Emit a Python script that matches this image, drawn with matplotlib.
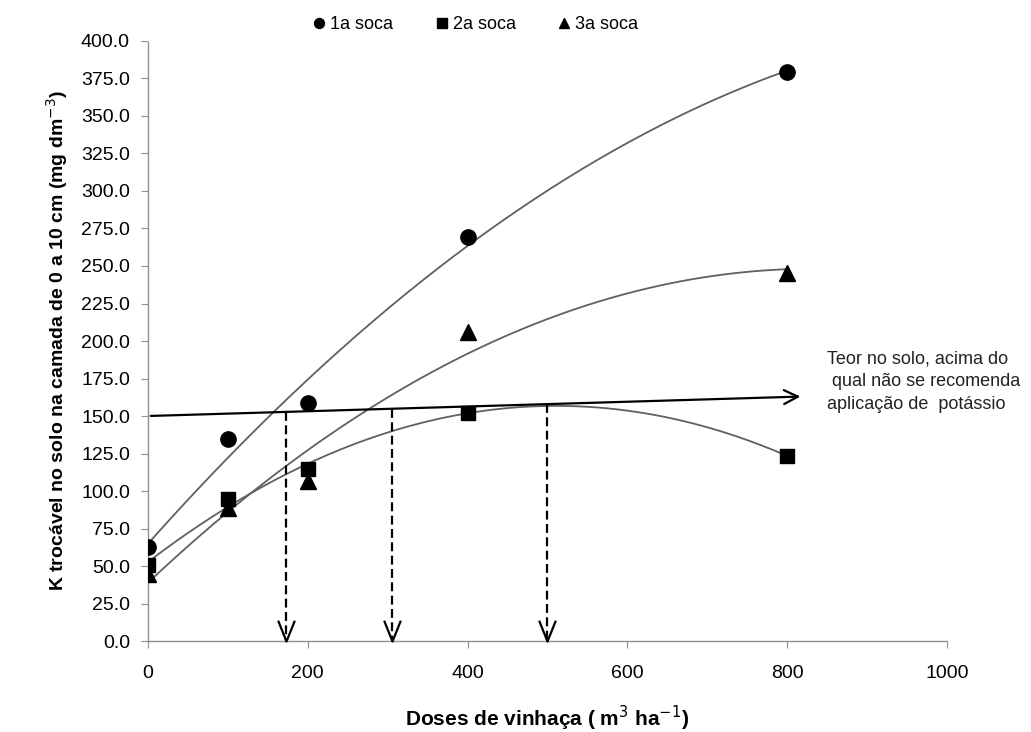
import numpy as np
from matplotlib import pyplot as plt
from matplotlib.path import Path

plt.rcParams['font.family'] = ['Liberation Sans', 'DejaVu Sans']

doses = [0, 100, 200, 400, 800]
soca1 = [62.5, 134.5, 159.0, 269.5, 379.5]
soca2 = [50.5, 94.5, 115.0, 152.0, 123.5]
soca3 = [45.0, 88.5, 106.5, 206.0, 245.5]
series = [("1a soca", soca1, "o", 11), ("2a soca", soca2, "s", 10.5), ("3a soca", soca3, "^", 11)]

# limite no solo (linha com seta) e doses onde as curvas cruzam o limite
limite_x = [0, 820]
limite_y = [150.0, 163.0]
cruzamentos = [173, 306, 500]

fig = plt.figure(figsize=(10.31, 7.32), dpi=100)
ax = fig.add_axes([0.1435, 0.1243, 0.775, 0.8197])

xs = np.linspace(0, 800, 200)
handles = []
for label, vals, mk, ms in series:
    coef = np.polyfit(doses, vals, 2)
    ax.plot(xs, np.polyval(coef, xs), color='#606060', lw=1.3, zorder=2)
    h, = ax.plot(doses, vals, linestyle='none', marker=mk, markersize=ms,
                 color='black', zorder=3, label=label)
    handles.append(h)

ax.annotate('', xy=(limite_x[1], limite_y[1]), xytext=(limite_x[0], limite_y[0]),
            arrowprops=dict(arrowstyle='->', color='black', lw=1.6,
                            mutation_scale=25), zorder=4)

# ponta de seta aberta (V) para as linhas tracejadas
vhead = Path([(-0.8, 2.0), (0, 0), (0.8, 2.0)], [Path.MOVETO, Path.LINETO, Path.LINETO])

slope = (limite_y[1] - limite_y[0]) / (limite_x[1] - limite_x[0])
for xc in cruzamentos:
    yc = limite_y[0] + slope * xc
    ax.plot([xc, xc], [yc, 0], color='black', lw=1.6, linestyle=(0, (4, 2)), zorder=4)
    ax.plot([xc], [0], marker=vhead, markersize=30, mfc='none', mec='black', mew=1.6,
            zorder=4, clip_on=False)

ax.text(850, 173, "Teor no solo, acima do\n qual não se recomenda\naplicação de  potássio",
        fontsize=13, color='#222222', va='center', ha='left', linespacing=1.45)

ax.set_xlim(0, 1000)
ax.set_ylim(0, 400)
ax.set_xticks(np.arange(0, 1001, 200))
ax.set_yticks(np.arange(0, 400.1, 25))
ax.set_yticklabels(["%.1f" % v for v in np.arange(0, 400.1, 25)])
for s in ['top', 'right']:
    ax.spines[s].set_visible(False)
for s in ['left', 'bottom']:
    ax.spines[s].set_color('#909090')
    ax.spines[s].set_linestyle((0, (1, 1)))
    ax.spines[s].set_linewidth(1.0)
ax.tick_params(axis='both', colors='#909090', length=5, labelsize=14,
               labelcolor='black')
ax.tick_params(axis='x', pad=12)
ax.tick_params(axis='y', pad=8)

ax.set_xlabel("Doses de vinhaça ( m$^3$ ha$^{-1}$)", fontsize=15, fontweight='bold',
              labelpad=16)
ax.set_ylabel("K trocável no solo na camada de 0 a 10 cm (mg dm$^{-3}$)", fontsize=14,
              fontweight='bold', labelpad=8)

fig.legend(handles=handles, loc='upper center', bbox_to_anchor=(0.46, 1.0), ncol=3,
           frameon=False, fontsize=13, handletextpad=0.1, columnspacing=2.2,
           handlelength=1.0, markerscale=0.65)

fig.savefig('out.png', dpi=100)
